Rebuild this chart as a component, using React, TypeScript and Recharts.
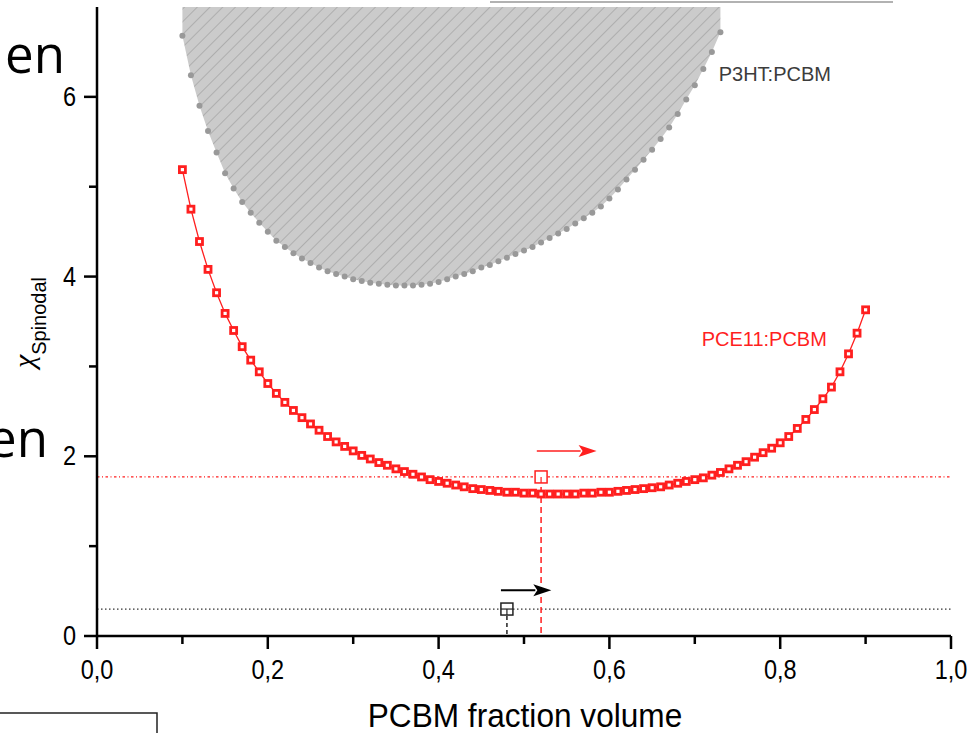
import React from 'react';
import { ComposedChart, Line, Area, XAxis, YAxis, ReferenceLine, ReferenceDot } from 'recharts';

// PCBM volume fraction, step 0.01
const fractions = [
  0.10, 0.11, 0.12, 0.13, 0.14, 0.15, 0.16, 0.17, 0.18, 0.19,
  0.20, 0.21, 0.22, 0.23, 0.24, 0.25, 0.26, 0.27, 0.28, 0.29,
  0.30, 0.31, 0.32, 0.33, 0.34, 0.35, 0.36, 0.37, 0.38, 0.39,
  0.40, 0.41, 0.42, 0.43, 0.44, 0.45, 0.46, 0.47, 0.48, 0.49,
  0.50, 0.51, 0.52, 0.53, 0.54, 0.55, 0.56, 0.57, 0.58, 0.59,
  0.60, 0.61, 0.62, 0.63, 0.64, 0.65, 0.66, 0.67, 0.68, 0.69,
  0.70, 0.71, 0.72, 0.73, 0.74, 0.75, 0.76, 0.77, 0.78, 0.79,
  0.80, 0.81, 0.82, 0.83, 0.84, 0.85, 0.86, 0.87, 0.88, 0.89,
  0.90,
];

// PCE11:PCBM spinodal
const pce11Chi = [
  5.19, 4.75, 4.39, 4.08, 3.82, 3.59, 3.40, 3.22, 3.07, 2.94,
  2.81, 2.70, 2.60, 2.51, 2.43, 2.36, 2.29, 2.22, 2.16, 2.11,
  2.06, 2.01, 1.97, 1.93, 1.90, 1.86, 1.83, 1.80, 1.77, 1.74,
  1.72, 1.70, 1.68, 1.66, 1.64, 1.63, 1.62, 1.61, 1.60, 1.60,
  1.59, 1.59, 1.58, 1.58, 1.58, 1.58, 1.58, 1.59, 1.59, 1.60,
  1.60, 1.61, 1.62, 1.63, 1.64, 1.65, 1.66, 1.68, 1.70, 1.72,
  1.74, 1.76, 1.79, 1.82, 1.86, 1.90, 1.94, 1.99, 2.04, 2.09,
  2.15, 2.22, 2.31, 2.41, 2.52, 2.64, 2.77, 2.94, 3.14, 3.37,
  3.63,
];

// P3HT:PCBM spinodal (goes off the top after 0.73)
const p3htChi = [
  6.68, 6.24, 5.90, 5.62, 5.38, 5.15, 4.98, 4.83, 4.71, 4.60,
  4.50, 4.40, 4.33, 4.26, 4.20, 4.15, 4.10, 4.06, 4.03, 4.00,
  3.97, 3.95, 3.93, 3.92, 3.91, 3.90, 3.90, 3.90, 3.91, 3.92,
  3.94, 3.97, 4.00, 4.03, 4.06, 4.10, 4.13, 4.17, 4.21, 4.25,
  4.29, 4.33, 4.38, 4.43, 4.48, 4.53, 4.59, 4.65, 4.71, 4.78,
  4.87, 4.97, 5.08, 5.19, 5.30, 5.41, 5.53, 5.66, 5.81, 5.97,
  6.13, 6.31, 6.50, 6.72,
];

const xTicks = [0, 0.1, 0.2, 0.3, 0.4, 0.5, 0.6, 0.7, 0.8, 0.9, 1.0];
const yTicks = [0, 1, 2, 3, 4, 5, 6];

// critical points: [PCE11, P3HT]
const criticalX = [0.52, 0.48];
const criticalChi = [1.77, 0.30];
const arrowFrom = [0.515, 0.473];
const arrowTo = [0.585, 0.532];
const arrowChi = [2.06, 0.51];

const seriesLabels = ['PCE11:PCBM', 'P3HT:PCBM'];
const labelX = [0.708, 0.728];
const labelChi = [3.23, 6.18];

const RED = '#ff1f1f';
const FONT = '"Liberation Sans", Arial, sans-serif';

const rows = fractions.map((x, i) => ({ x, pce11: pce11Chi[i], p3ht: p3htChi[i] }));

const isMajorX = (v: number) => Math.round(v * 10) % 2 === 0;

// Origin-style labels are a bit narrow and tall
const NarrowText = ({ x, y, size, anchor, children }: any) => (
  <text
    transform={`translate(${x},${y}) scale(0.87,1)`}
    x={0}
    y={0}
    textAnchor={anchor}
    fontSize={size}
    fontFamily={FONT}
    fill="#000"
  >
    {children}
  </text>
);

const BottomTick = (p: any) => {
  const v = p.payload.value;
  const major = isMajorX(v);
  return (
    <g>
      <line x1={p.x} y1={p.y} x2={p.x} y2={p.y + (major ? 13 : 8)} stroke="#000" strokeWidth={2.5} />
      {major && (
        <NarrowText x={p.x} y={p.y + 43} size={27} anchor="middle">
          {v.toFixed(1).replace('.', ',')}
        </NarrowText>
      )}
    </g>
  );
};

const TopTick = (p: any) => {
  const major = isMajorX(p.payload.value);
  return <line x1={p.x} y1={p.y} x2={p.x} y2={p.y + (major ? 13 : 8)} stroke="#000" strokeWidth={2.5} />;
};

const LeftTick = (p: any) => {
  const v = p.payload.value;
  const major = v % 2 === 0;
  return (
    <g>
      <line x1={p.x} y1={p.y} x2={p.x - (major ? 13 : 8)} y2={p.y} stroke="#000" strokeWidth={2.5} />
      {major && (
        <NarrowText x={p.x - 21} y={p.y + 9} size={27} anchor="end">
          {v}
        </NarrowText>
      )}
    </g>
  );
};

const RightTick = (p: any) => {
  const major = p.payload.value % 2 === 0;
  return <line x1={p.x} y1={p.y} x2={p.x - (major ? 13 : 8)} y2={p.y} stroke="#000" strokeWidth={2.5} />;
};

const SquareDot = (p: any) => {
  if (p.cx == null || p.cy == null) return <g key={p.index} />;
  return (
    <rect key={p.index} x={p.cx - 3} y={p.cy - 3} width={6} height={6} fill="#fff" stroke={RED} strokeWidth={2.8} />
  );
};

const arrowShape = (color: string, width: number) => (p: any) => {
  const { x1, y1, x2, y2 } = p;
  const head = 18;
  return (
    <g>
      <line x1={x1} y1={y1} x2={x2 - head + 2} y2={y2} stroke={color} strokeWidth={width} />
      <polygon points={`${x2 - head},${y2 - 6} ${x2},${y2} ${x2 - head},${y2 + 6} ${x2 - head + 4},${y2}`} fill={color} />
    </g>
  );
};

const openSquare = (color: string, cross: boolean) => (p: any) => (
  <g>
    <rect x={p.cx - 6} y={p.cy - 6} width={12} height={12} fill="#fff" stroke={color} strokeWidth={1.5} />
    {cross && <line x1={p.cx - 6} y1={p.cy} x2={p.cx + 6} y2={p.cy} stroke={color} strokeWidth={1.2} />}
    <line x1={p.cx} y1={p.cy} x2={p.cx} y2={p.cy + 6} stroke={color} strokeWidth={1.2} />
  </g>
);

const textShape = (text: string, color: string) => (p: any) => (
  <text x={p.cx} y={p.cy} fontSize={20} fontFamily={FONT} fill={color}>
    {text}
  </text>
);

export default function App() {
  return (
    <div style={{ position: 'absolute', left: 0, top: 0, width: 973, height: 733, background: '#fff', overflow: 'hidden' }}>
      <ComposedChart width={973} height={733} data={rows} margin={{ top: 7, right: 22, bottom: 0, left: 0 }}>
        <defs>
          <pattern id="hatch" width="9" height="9" patternUnits="userSpaceOnUse" patternTransform="rotate(45)">
            <rect width="9" height="9" fill="#cbcbcb" />
            <line x1="0" y1="0" x2="0" y2="9" stroke="#9a9a9a" strokeWidth="1.2" />
          </pattern>
        </defs>
        <XAxis
          xAxisId={0}
          dataKey="x"
          type="number"
          domain={[0, 1]}
          ticks={xTicks}
          interval={0}
          height={97}
          tickSize={0}
          tickMargin={0}
          tickLine={false}
          axisLine={{ stroke: '#000', strokeWidth: 2.5 }}
          tick={<BottomTick />}
          allowDataOverflow
        />
        <XAxis
          xAxisId="top"
          orientation="top"
          dataKey="x"
          type="number"
          domain={[0, 1]}
          ticks={xTicks}
          interval={0}
          height={0}
          tickSize={0}
          tickMargin={0}
          tickLine={false}
          axisLine={{ stroke: '#000', strokeWidth: 2.5 }}
          tick={<TopTick />}
          allowDataOverflow
        />
        <YAxis
          yAxisId={0}
          type="number"
          domain={[0, 7]}
          ticks={yTicks}
          interval={0}
          width={97}
          tickSize={0}
          tickMargin={0}
          tickLine={false}
          axisLine={{ stroke: '#000', strokeWidth: 2.5 }}
          tick={<LeftTick />}
          allowDataOverflow
        />
        <YAxis
          yAxisId="right"
          orientation="right"
          type="number"
          domain={[0, 7]}
          ticks={yTicks}
          interval={0}
          width={0}
          tickSize={0}
          tickMargin={0}
          tickLine={false}
          axisLine={{ stroke: '#000', strokeWidth: 2.5 }}
          tick={<RightTick />}
          allowDataOverflow
        />

        <Area
          dataKey="p3ht"
          type="linear"
          baseValue={7}
          stroke="none"
          fill="url(#hatch)"
          fillOpacity={1}
          dot={{ r: 3, fill: '#999999', stroke: 'none' }}
          activeDot={false}
          isAnimationActive={false}
        />

        <ReferenceLine y={criticalChi[0]} stroke={RED} strokeWidth={1.3} strokeDasharray="2.5 2.5 1 2.5" />
        <ReferenceLine y={criticalChi[1]} stroke="#333" strokeWidth={1.3} strokeDasharray="1.5 2.5" />
        <ReferenceLine
          segment={[{ x: criticalX[0], y: criticalChi[0] }, { x: criticalX[0], y: 0 }]}
          stroke={RED}
          strokeWidth={1.5}
          strokeDasharray="6 4"
        />
        <ReferenceLine
          segment={[{ x: criticalX[1], y: criticalChi[1] }, { x: criticalX[1], y: 0 }]}
          stroke="#222"
          strokeWidth={1.5}
          strokeDasharray="4 3"
        />

        <Line
          dataKey="pce11"
          type="linear"
          stroke={RED}
          strokeWidth={1.3}
          dot={SquareDot}
          activeDot={false}
          isAnimationActive={false}
        />

        <ReferenceLine
          segment={[{ x: arrowFrom[0], y: arrowChi[0] }, { x: arrowTo[0], y: arrowChi[0] }]}
          shape={arrowShape(RED, 1.5)}
        />
        <ReferenceLine
          segment={[{ x: arrowFrom[1], y: arrowChi[1] }, { x: arrowTo[1], y: arrowChi[1] }]}
          shape={arrowShape('#000', 2)}
        />
        <ReferenceDot x={criticalX[0]} y={criticalChi[0]} r={6} shape={openSquare(RED, false)} />
        <ReferenceDot x={criticalX[1]} y={criticalChi[1]} r={6} shape={openSquare('#222', true)} />
        <ReferenceDot x={labelX[0]} y={labelChi[0]} r={1} shape={textShape(seriesLabels[0], RED)} />
        <ReferenceDot x={labelX[1]} y={labelChi[1]} r={1} shape={textShape(seriesLabels[1], '#3c3c3c')} />
      </ComposedChart>

      <svg width={973} height={733} style={{ position: 'absolute', left: 0, top: 0, pointerEvents: 'none' }}>
        <text x={5} y={73} fontSize={51} fontFamily='"Open Sans", sans-serif' fill="#000">en</text>
        <text x={-12} y={457} fontSize={51} fontFamily='"Open Sans", sans-serif' fill="#000">en</text>
        <line x1={490} y1={2} x2={893} y2={2} stroke="#999" strokeWidth={1.5} />
        <path d="M0,713 H157 V733" fill="none" stroke="#222" strokeWidth={1.5} />
        <g transform="translate(34, 368) rotate(-90)">
          <text x={0} y={0} fill="#000">
            <tspan fontSize={30} fontFamily='"Liberation Serif", "DejaVu Serif", serif' fontStyle="italic">χ</tspan>
            <tspan fontSize={20} dy={12} fontFamily={FONT}>Spinodal</tspan>
          </text>
        </g>
        <g transform="translate(525,727) scale(0.93,1)">
          <text x={0} y={0} textAnchor="middle" fontSize={34} fontFamily={FONT} fill="#000">
            PCBM fraction volume
          </text>
        </g>
      </svg>
    </div>
  );
}
